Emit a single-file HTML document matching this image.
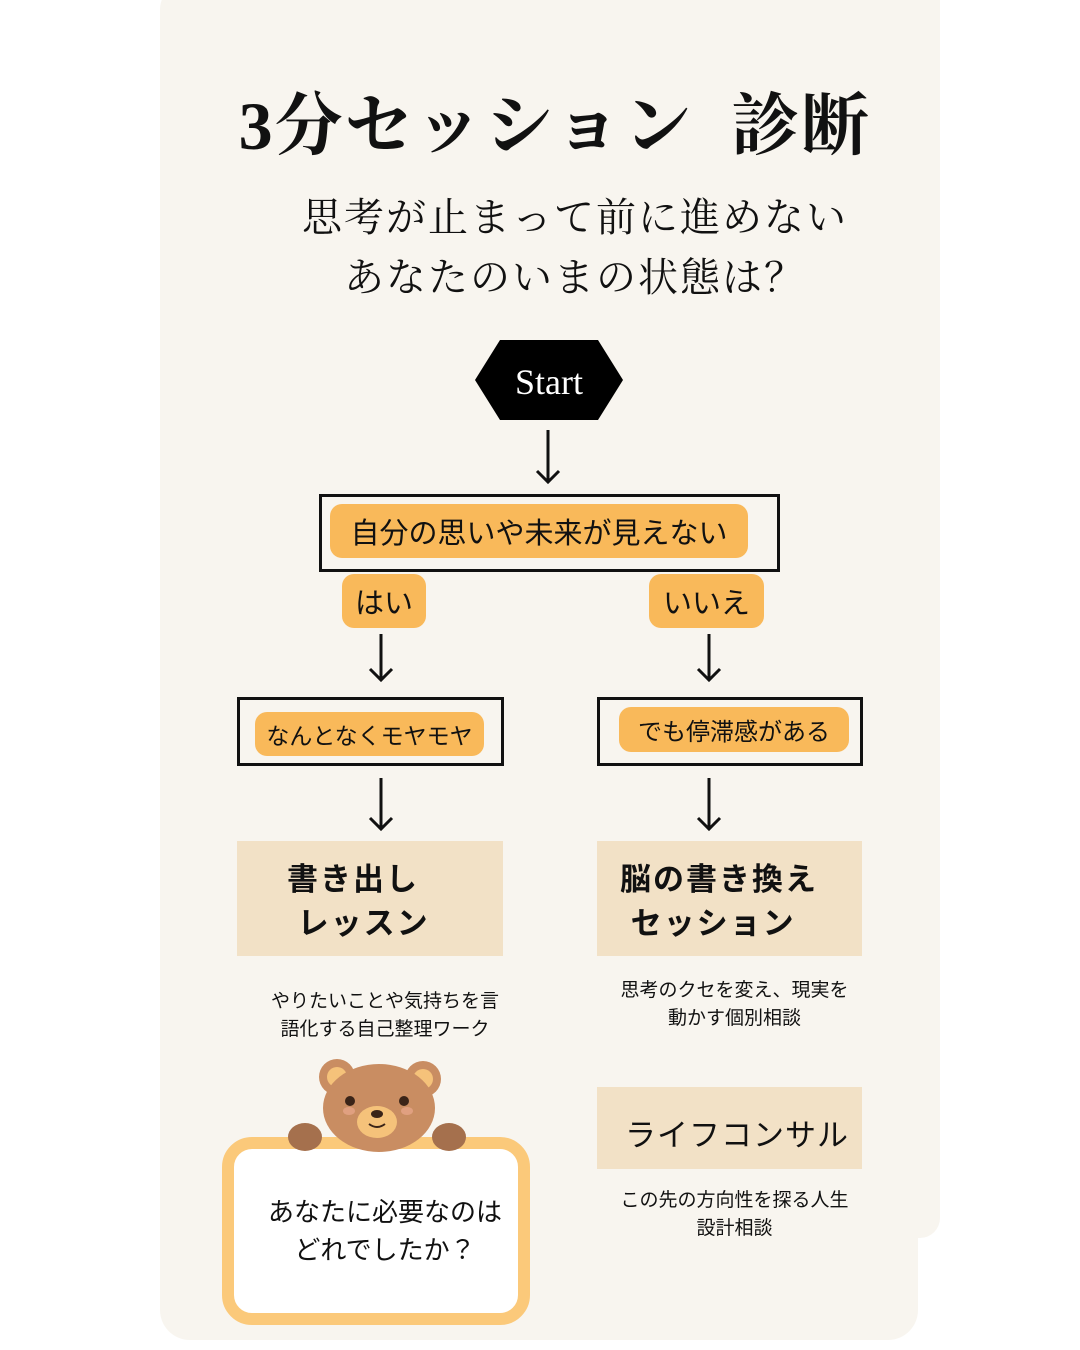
<!DOCTYPE html>
<html><head><meta charset="utf-8"><style>
body{margin:0;width:1080px;height:1350px;background:#fff;position:relative;overflow:hidden;font-family:"Liberation Sans","Noto Sans CJK JP",sans-serif;color:#111}
.a{position:absolute}
.card{left:160px;top:-20px;width:758px;height:1360px;background:#f8f5ef;border-radius:30px}
.card2{left:880px;top:-20px;width:60px;height:1258px;background:#f8f5ef;border-radius:0 20px 20px 0}
.serif{font-family:"Liberation Serif","Noto Serif CJK SC",serif}
.pill{background:#f9b95a;border-radius:12px;display:flex;align-items:center;justify-content:center}
.box{border:3px solid #111;box-sizing:border-box}
.beige{background:#f2e1c6}
.c{text-align:center}
</style></head><body>
<div class="a card"></div>
<div class="a card2"></div>
<div class="a serif" style="left:200px;top:72px;width:710px;font-size:68px;font-weight:bold;text-align:center;white-space:nowrap;letter-spacing:2px">3分セッション&nbsp;&nbsp;診断</div>
<div class="a serif c" style="left:240px;top:188px;width:670px;font-size:40px;line-height:60px;letter-spacing:2px">思考が止まって前に進めない<br>あなたのいまの状態は？</div>
<svg class="a" style="left:0;top:0" width="1080" height="1350">
<polygon points="500,340 598,340 623,380 598,420 500,420 475,380" fill="#000"/>
<text x="549" y="394" fill="#fff" font-family="Liberation Serif" font-size="36" text-anchor="middle">Start</text>
<g stroke="#111" stroke-width="3" fill="none">
<path d="M548 430V482M537 471L548 482L559 471"/>
<path d="M381 634V680M370 669L381 680L392 669"/>
<path d="M709 634V680M698 669L709 680L720 669"/>
<path d="M381 778V829M370 818L381 829L392 818"/>
<path d="M709 778V829M698 818L709 829L720 818"/>
</g>
</svg>
<div class="a box" style="left:319px;top:494px;width:461px;height:78px"></div>
<div class="a pill" style="left:330px;top:504px;width:418px;height:54px;font-size:29px">自分の思いや未来が見えない</div>
<div class="a pill" style="left:342px;top:574px;width:84px;height:54px;font-size:29px">はい</div>
<div class="a pill" style="left:649px;top:574px;width:115px;height:54px;font-size:29px">いいえ</div>
<div class="a box" style="left:237px;top:697px;width:267px;height:69px"></div>
<div class="a pill" style="left:255px;top:712px;width:229px;height:44px;font-size:23px">なんとなくモヤモヤ</div>
<div class="a box" style="left:597px;top:697px;width:266px;height:69px"></div>
<div class="a pill" style="left:619px;top:707px;width:230px;height:45px;font-size:24px">でも停滞感がある</div>
<div class="a beige" style="left:237px;top:841px;width:266px;height:115px"></div>
<div class="a" style="left:287px;top:858px;font-size:31px;font-weight:bold;line-height:44px;letter-spacing:2px">書き出し<br>&nbsp;レッスン</div>
<div class="a beige" style="left:597px;top:841px;width:265px;height:115px"></div>
<div class="a" style="left:620px;top:858px;font-size:31px;font-weight:bold;line-height:44px;letter-spacing:2px">脳の書き換え<br>&nbsp;セッション</div>
<div class="a c" style="left:240px;top:988px;width:290px;font-size:19px;line-height:28px">やりたいことや気持ちを言<br>語化する自己整理ワーク</div>
<div class="a c" style="left:597px;top:977px;width:275px;font-size:19px;line-height:28px">思考のクセを変え、現実を<br>動かす個別相談</div>
<div class="a beige" style="left:597px;top:1087px;width:265px;height:82px"></div>
<div class="a" style="left:625px;top:1110px;font-size:31px;letter-spacing:1px">ライフコンサル</div>
<div class="a c" style="left:597px;top:1187px;width:275px;font-size:19px;line-height:28px">この先の方向性を探る人生<br>設計相談</div>
<div class="a" style="left:222px;top:1137px;width:308px;height:188px;box-sizing:border-box;border:12px solid #fbc97a;border-radius:30px;background:#fff"></div>
<svg class="a" style="left:0;top:0" width="1080" height="1350">
<g transform="translate(377,1105)">
<circle cx="-40" cy="-28" r="18" fill="#c98d62"/><circle cx="-40" cy="-28" r="10" fill="#f5c27a"/>
<circle cx="46" cy="-26" r="18" fill="#c98d62"/><circle cx="46" cy="-26" r="10" fill="#f5c27a"/>
<ellipse cx="2" cy="3" rx="56" ry="44" fill="#c98d62"/>
<ellipse cx="0" cy="17" rx="20" ry="16" fill="#f5c27a"/>
<circle cx="-27" cy="-4" r="5" fill="#3a2418"/><circle cx="27" cy="-4" r="5" fill="#3a2418"/>
<ellipse cx="-28" cy="6" rx="6" ry="4" fill="#e0a080"/><ellipse cx="30" cy="6" rx="6" ry="4" fill="#e0a080"/>
<ellipse cx="0" cy="9" rx="6" ry="4" fill="#3a2418"/>
<path d="M-8 19Q0 25 8 19" stroke="#3a2418" stroke-width="2" fill="none"/>
<ellipse cx="-72" cy="32" rx="17" ry="14" fill="#a5704d"/><ellipse cx="72" cy="32" rx="17" ry="14" fill="#a5704d"/>
</g>
</svg>
<div class="a c" style="left:240px;top:1193px;width:290px;font-size:26px;line-height:38px">あなたに必要なのは<br>どれでしたか？</div>
</body></html>
